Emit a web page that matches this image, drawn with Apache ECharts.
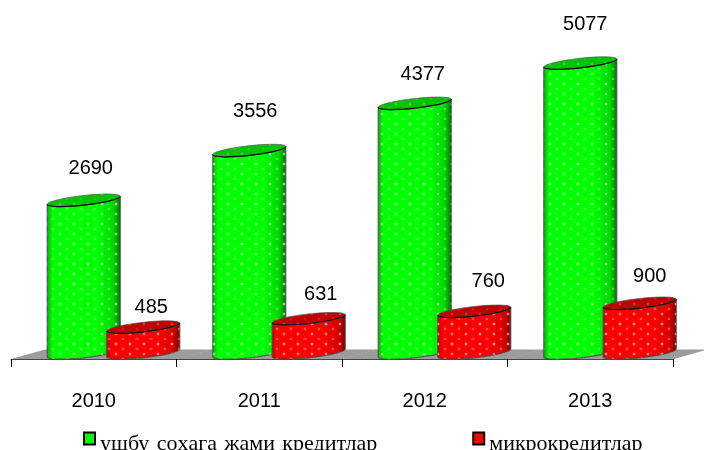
<!DOCTYPE html>
<html><head><meta charset="utf-8">
<style>html,body{margin:0;padding:0;background:#fff}#c{width:704px;height:450px}</style>
<script src="https://cdn.jsdelivr.net/npm/echarts@6/dist/echarts.min.js"></script>
</head><body><div id="c"></div>
<script>
const categories = ['2010','2011','2012','2013'];
const totalCredits = [2690,3556,4377,5077];
const microCredits = [485,631,760,900];
const totalName = 'ушбу \u200Aсоҳага \u200Aжами \u200Aкредитлар';
const microName = 'микрокредитлар';

// label nudges (layout only): [dx, dy] from the cylinder's top centre
const totalLabelNudge = [[7,-32],[6,-39],[8,-29],[5,-39]];
const microLabelNudge = [[8,-20],[12,-24],[14,-30],[10,-27]];

function dots(){
  const c=document.createElement('canvas');c.width=14;c.height=20;
  const g=c.getContext('2d');
  [[3,3,0.6],[10,8,0.32],[3,13,0.5],[10,18,0.3]].forEach(d=>{
    g.fillStyle='rgba(255,255,255,'+d[2]+')';g.fillRect(d[0],d[1],2,2);
    g.fillStyle='rgba(255,255,255,'+d[2]*0.25+')';g.fillRect(d[0]-1,d[1],1,2);g.fillRect(d[0]+2,d[1],1,2);g.fillRect(d[0],d[1]-1,2,1);g.fillRect(d[0],d[1]+2,2,1);
  });
  return c;
}
const pat={image:dots(),repeat:'repeat'};
const TILT=8,B=4.8,W=73,K=0.5523;

// half of a sheared ellipse, left end to right end; sign -1 = upper, +1 = lower
function arc(x0,yL,sign){
  const a=W/2,cx=x0+a,cy=yL-TILT/2;
  const P=(u,v)=>[cx+a*u,cy-TILT/2*u+sign*B*v];
  const p=[P(-1,K),P(-K,1),P(0,1),P(K,1),P(1,K),P(1,0)];
  return p.map(q=>q.join(' ')).reduce((acc,q,i)=>acc+(i%3==0?'C':' ')+q,'');
}
function arcRev(x0,yL,sign){
  const a=W/2,cx=x0+a,cy=yL-TILT/2;
  const P=(u,v)=>[cx+a*u,cy-TILT/2*u+sign*B*v];
  const p=[P(1,K),P(K,1),P(0,1),P(-K,1),P(-1,K),P(-1,0)];
  return p.map(q=>q.join(' ')).reduce((acc,q,i)=>acc+(i%3==0?'C':' ')+q,'');
}
function cyl(offset,cols,nudge){
  return function(params,api){
    const i=api.value(0),v=api.value(1);
    const base=api.coord([i,0]),top=api.coord([i,v]);
    const x0=base[0]+offset,x1=x0+W,yb=base[1]-2,yt=top[1];
    const body=`M${x0} ${yt}L${x0} ${yb}${arc(x0,yb,1)}L${x1} ${yt-TILT}${arcRev(x0,yt,1)}Z`;
    const cap=`M${x0} ${yt}${arc(x0,yt,-1)}${arcRev(x0,yt,1)}Z`;
    const front=`M${x0} ${yt}${arc(x0,yt,1)}`;
    const grad={type:'linear',x:0,y:0,x2:1,y2:0,colorStops:[
      {offset:0,color:cols[0]},{offset:0.08,color:cols[1]},{offset:0.68,color:cols[1]},{offset:0.9,color:cols[2]},{offset:1,color:cols[3]}]};
    return {type:'group',children:[
      {type:'path',shape:{pathData:body},style:{fill:grad,stroke:'rgba(70,70,70,0.75)',lineWidth:1.3}},
      {type:'path',shape:{pathData:body},style:{fill:pat}},
      {type:'path',shape:{pathData:cap},style:{fill:cols[4],stroke:'rgba(80,80,80,0.7)',lineWidth:1}},
      {type:'path',shape:{pathData:cap},style:{fill:pat,opacity:0.4}},
      {type:'path',shape:{pathData:front},style:{fill:'none',stroke:'#111',lineWidth:1.2}},
      {type:'text',x:x0+W/2+nudge[i][0],y:yt-TILT/2+nudge[i][1],style:{text:String(v),fill:'#000',font:'20px "Liberation Sans"',align:'center',verticalAlign:'middle'}}
    ]};
  };
}
function floor(params,api){
  const i=api.value(0);
  const b=api.coord([i,0]),band=api.size([1,0])[0];
  const l=b[0]-band/2,r=b[0]+band/2,y=b[1],sh=34;
  return {type:'polygon',shape:{points:[[l,y],[r+1,y],[r+1+sh,y-9.5],[l+sh,y-9.5]]},style:{fill:'#9c9c9c'}};
}
const chart=echarts.init(document.getElementById('c'),null,{renderer:'canvas'});
chart.setOption({
  animation:false,
  grid:{left:11,right:31,top:14,bottom:91,containLabel:false},
  legend:{data:[totalName,microName],left:78,top:417,itemWidth:11,itemHeight:12,itemGap:95,
    icon:'rect',itemStyle:{borderColor:'#000',borderWidth:2},
    formatter:n=>'\n'+n,
    textStyle:{fontFamily:'Liberation Serif',fontSize:22,lineHeight:11,color:'#000'}},
  xAxis:{type:'category',data:categories,boundaryGap:true,
    axisLine:{show:true,lineStyle:{color:'#444',width:1}},
    axisTick:{show:true,alignWithLabel:false,inside:false,length:8,lineStyle:{color:'#000',width:1}},
    axisLabel:{fontFamily:'Liberation Sans',fontSize:20,color:'#000',margin:32}},
  yAxis:{type:'value',min:0,max:6000,show:false,splitLine:{show:false}},
  series:[
    {type:'custom',name:'floor',silent:true,clip:false,z:1,renderItem:floor,data:categories.map((c,i)=>[i]),encode:{x:0}},
    {type:'custom',name:totalName,clip:false,z:2,itemStyle:{color:'#00ff00'},
     renderItem:cyl(-46.5,['#00b000','#00ff00','#00d800','#007000','#00c400'],totalLabelNudge),
     data:totalCredits.map((v,i)=>[i,v]),encode:{x:0,y:1}},
    {type:'custom',name:microName,clip:false,z:3,itemStyle:{color:'#ff0000'},
     renderItem:cyl(13,['#c80000','#ff0000','#d80000','#7a0000','#c00000'],microLabelNudge),
     data:microCredits.map((v,i)=>[i,v]),encode:{x:0,y:1}}
  ]
});
</script></body></html>
